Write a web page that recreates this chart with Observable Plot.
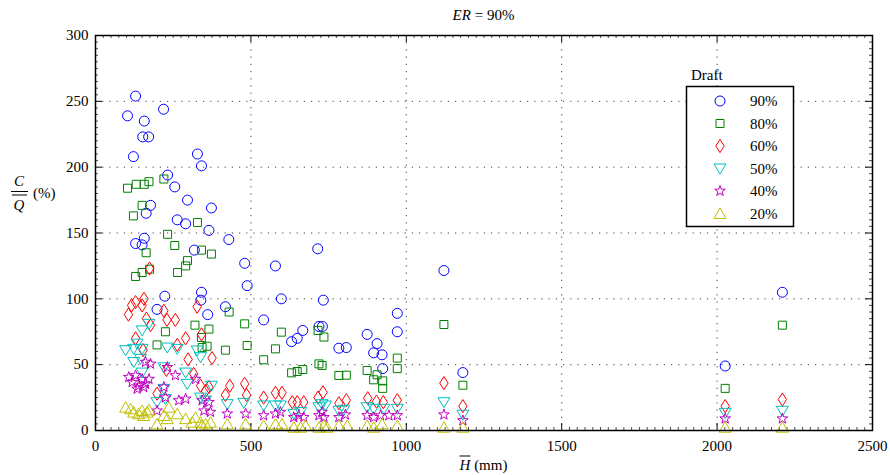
<!DOCTYPE html>
<html>
<head>
<meta charset="utf-8">
<script src="https://cdn.jsdelivr.net/npm/d3@7"></script>
<script src="https://cdn.jsdelivr.net/npm/@observablehq/plot@0.6"></script>
<style>
  html, body { margin: 0; padding: 0; background: white; }
  svg { display: block; }
</style>
</head>
<body>
<div id="chart"></div>
<script>
// ---- data ----
const drafts = ["90%", "80%", "60%", "50%", "40%", "20%"];

const H90 = [103,129,122,157,152,171,219,328,341,232,255,296,373,177,163,263,290,365,157,129,150,318,429,480,579,715,488,598,733,341,339,223,198,361,418,541,971,971,667,649,631,719,730,783,807,874,906,895,922,924,1121,1182,2026,2210];
const C90 = [239,254,208,235,223,223,244,210,201,194,185,175,169,171,165,160,157,152,146,142,141,137,145,127,125,138,110,100,99,105,99,102,92,88,94,84,89,75,76,70,67.5,79,79,62.5,63,73,66,59,57.5,47,121.5,44,49,105];

const H80 = [103,131,157,172,220,150,122,328,232,255,163,341,373,296,290,264,174,150,129,430,225,320,365,341,198,359,343,418,488,480,598,579,541,716,735,719,729,631,649,667,783,807,874,906,895,924,924,971,971,1121,1182,2210,2026];
const C80 = [184,187,187,189,191,171,163,158,149,140.5,135,137,134,129,125,120,122.5,120,117,90,75,80,77,70.6,65,64,63,61,64.6,81,74.7,62,53.7,76,71,50.6,49.4,43.8,44.8,46.3,41.8,42,45.6,42.3,38.5,37.7,32,55,47,80.5,34.4,80,32];

const H60 = [174,129,116,156,150,106,164,177,220,230,257,327,341,129,290,263,153,375,298,228,316,338,354,365,198,432,418,480,486,541,579,600,633,649,670,716,732,783,807,876,904,926,971,1121,1182,2210,2026];
const C60 = [123,97.5,95,100,95,88,85,80,91,84,84,94,73,70,70,65,61,55,54,46,43,34,30,33,28,34,27,35.5,27,25,28.6,28.6,21.5,21.5,21.5,25,29,20.7,23,24.5,22,21.5,23,36,18.5,23.5,18.5];

const H50 = [172,150,97,123,134,150,123,145,231,263,220,327,338,290,295,373,198,225,338,354,424,477,541,579,595,638,660,719,729,740,783,799,874,895,928,971,1121,1182,2210,2026,150,220];
const C50 = [81,76,61,62,66,62,52,54.4,63,62,48,60.8,55.7,44,35.4,34,21.5,24,25,22.8,20,21,19,19,19,12.7,14,17.7,20,19,15,15.7,17.7,16.5,16.5,16.5,21.5,12,15,13.4,44,31.6];

const H40 = [161,177,231,257,107,129,150,118,139,161,172,134,155,220,322,268,290,225,198,343,365,349,370,424,483,541,579,595,638,654,670,719,729,735,783,804,874,895,917,944,971,1121,1182,2210,2026];
const C40 = [52,50.6,48,41.8,40.5,41.8,39,36.7,34,35.4,39,31.6,32.9,33,39,22.8,24,25,15,22.8,21.5,15,14,12.7,12.7,11.4,12.7,14,10,11.4,10,11.4,14,10,10,12,11.4,10,11.4,11.4,11.4,12,7.6,9,9];

const H20 = [97,113,123,139,155,166,172,150,198,220,231,236,263,290,311,322,338,354,370,343,424,483,541,579,600,638,660,676,719,735,745,783,810,874,895,922,971,1121,1182,2210,2026];
const C20 = [17.7,16.5,14,12.7,11.4,14,15.7,15.2,5,11.4,9,17.7,12.7,9,6.3,10,6.3,5,6.3,3.8,5,5,3.8,5,5,2.5,2.5,3.8,2.5,3.8,2.5,3.8,3.8,3.8,2.5,5,3.8,2.5,2.5,2.5,2.5];

const xTicks = [0, 500, 1000, 1500, 2000, 2500];
const yTicks = [0, 50, 100, 150, 200, 250, 300];

// ---- styling ----
const colors = ["#0000ff", "#008000", "#ff0000", "#00bfbf", "#bf00bf", "#bfbf00"];
const FF = "'Times New Roman', 'Liberation Serif', 'DejaVu Serif', 'Noto Serif', Times, serif";

const symCircle = {draw(c) { c.moveTo(5, 0); c.arc(0, 0, 5, 0, 2 * Math.PI); c.closePath(); }};
const symSquare = {draw(c) { c.moveTo(-4, -4); c.lineTo(4, -4); c.lineTo(4, 4); c.lineTo(-4, 4); c.closePath(); }};
const symDiamond = {draw(c) { c.moveTo(0, -6.6); c.lineTo(4.2, 0); c.lineTo(0, 6.6); c.lineTo(-4.2, 0); c.closePath(); }};
const symTriDown = {draw(c) { c.moveTo(-6, -4.5); c.lineTo(6, -4.5); c.lineTo(0, 5.5); c.closePath(); }};
const symTriUp = {draw(c) { c.moveTo(0, -5.5); c.lineTo(6, 5); c.lineTo(-6, 5); c.closePath(); }};
const symStar = {draw(c) {
  const R = 5.6, r = R * 0.4;
  for (let i = 0; i < 10; i++) {
    const a = -Math.PI / 2 + i * Math.PI / 5;
    const rr = i % 2 === 0 ? R : r;
    const x = rr * Math.cos(a), y = rr * Math.sin(a);
    if (i === 0) c.moveTo(x, y); else c.lineTo(x, y);
  }
  c.closePath();
}};
const symbols = [symCircle, symSquare, symDiamond, symTriDown, symStar, symTriUp];

const seriesH = [H90, H80, H60, H50, H40, H20];
const seriesC = [C90, C80, C60, C50, C40, C20];
const rows = [];
seriesH.forEach((hs, s) => {
  const cs = seriesC[s];
  const n = Math.min(hs.length, cs.length);
  for (let i = 0; i < n; i++) rows.push({H: hs[i], C: cs[i], s});
});

const xMinor = d3.range(0, 2501, 25).filter(d => d % 500 !== 0);
const yMinor = d3.range(0, 301, 5).filter(d => d % 50 !== 0);

const ML = 95, MR = 18, MT = 35, MB = 45, W = 890, HH = 475;
const pw = W - ML - MR, ph = HH - MT - MB;

const dotMarks = symbols.map((sym, s) =>
  Plot.dot(rows.filter(d => d.s === s), {
    x: "H", y: "C", symbol: sym, r: 5,
    stroke: colors[s], strokeWidth: 1, fill: "none"
  })
);

const chart = Plot.plot({
  width: W, height: HH,
  marginLeft: ML, marginRight: MR, marginTop: MT, marginBottom: MB,
  x: {domain: [0, 2500]},
  y: {domain: [0, 300]},
  style: {fontFamily: FF, fontSize: "15px", background: "white", color: "black"},
  marks: [
    Plot.gridX(xTicks.slice(1, -1), {stroke: "#000", strokeOpacity: 0.75, strokeWidth: 1, strokeDasharray: "1.2,6"}),
    Plot.gridY(yTicks.slice(1, -1), {stroke: "#000", strokeOpacity: 0.75, strokeWidth: 1, strokeDasharray: "1.2,6"}),
    // inward major ticks
    Plot.tickX(xTicks, {x: d => d, insetTop: ph - 7, stroke: "black"}),
    Plot.tickX(xTicks, {x: d => d, insetBottom: ph - 7, stroke: "black"}),
    Plot.tickY(yTicks, {y: d => d, insetRight: pw - 7, stroke: "black"}),
    Plot.tickY(yTicks, {y: d => d, insetLeft: pw - 7, stroke: "black"}),
    // inward minor ticks
    Plot.tickX(xMinor, {x: d => d, insetTop: ph - 3, stroke: "black", strokeWidth: 0.7}),
    Plot.tickX(xMinor, {x: d => d, insetBottom: ph - 3, stroke: "black", strokeWidth: 0.7}),
    Plot.tickY(yMinor, {y: d => d, insetRight: pw - 3, stroke: "black", strokeWidth: 0.7}),
    Plot.tickY(yMinor, {y: d => d, insetLeft: pw - 3, stroke: "black", strokeWidth: 0.7}),
    Plot.axisX(xTicks, {tickSize: 0, tickPadding: 10, label: null, tickFormat: d => String(d), fontSize: 15}),
    Plot.axisY(yTicks, {tickSize: 0, tickPadding: 7, label: null, tickFormat: d => String(d), fontSize: 15}),
    ...dotMarks,
    Plot.frame({stroke: "black", strokeWidth: 1.5})
  ]
});

document.getElementById("chart").appendChild(chart);

const svg = d3.select(chart);
svg.selectAll("text").style("font-family", FF);

function txt(parent, x, y, anchor) {
  return parent.append("text").attr("x", x).attr("y", y)
    .attr("text-anchor", anchor).style("font-family", FF).attr("font-size", 15).attr("fill", "black");
}

// title
const t = txt(svg, ML + pw / 2, 20, "middle");
t.append("tspan").attr("font-style", "italic").text("ER");
t.append("tspan").text(" = 90%");

// x label with overlined H
const xl = txt(svg, ML + pw / 2, 470, "middle");
const hT = xl.append("tspan").attr("font-style", "italic").text("H");
xl.append("tspan").text(" (mm)");
const bb = xl.node().getBBox();
const hw = hT.node().getComputedTextLength();
svg.append("line").attr("x1", bb.x + 1).attr("x2", bb.x + hw + 1)
  .attr("y1", 456).attr("y2", 456).attr("stroke", "black").attr("stroke-width", 1);

// y label: C over Q-bar, then (%)
const yl = svg.append("g");
txt(yl, 19, 186, "middle").attr("font-style", "italic").text("C");
yl.append("line").attr("x1", 11).attr("x2", 28).attr("y1", 191.5).attr("y2", 191.5).attr("stroke", "black").attr("stroke-width", 1);
yl.append("line").attr("x1", 12).attr("x2", 27).attr("y1", 195).attr("y2", 195).attr("stroke", "black").attr("stroke-width", 1);
txt(yl, 19, 210, "middle").attr("font-style", "italic").text("Q");
txt(yl, 33, 198, "start").text("(%)");

// legend
const lg = svg.append("g");
txt(lg, 691, 80, "start").text("Draft");
lg.append("rect").attr("x", 686.5).attr("y", 86.5).attr("width", 107).attr("height", 140)
  .attr("fill", "white").attr("stroke", "black").attr("stroke-width", 1.5);
drafts.forEach((d, i) => {
  const y = 101 + i * 22.5;
  lg.append("path").attr("d", d3.symbol(symbols[i])()).attr("transform", `translate(720,${y})`)
    .attr("fill", "none").attr("stroke", colors[i]).attr("stroke-width", 1);
  txt(lg, 750, y + 5, "start").text(d);
});
</script>
</body>
</html>
